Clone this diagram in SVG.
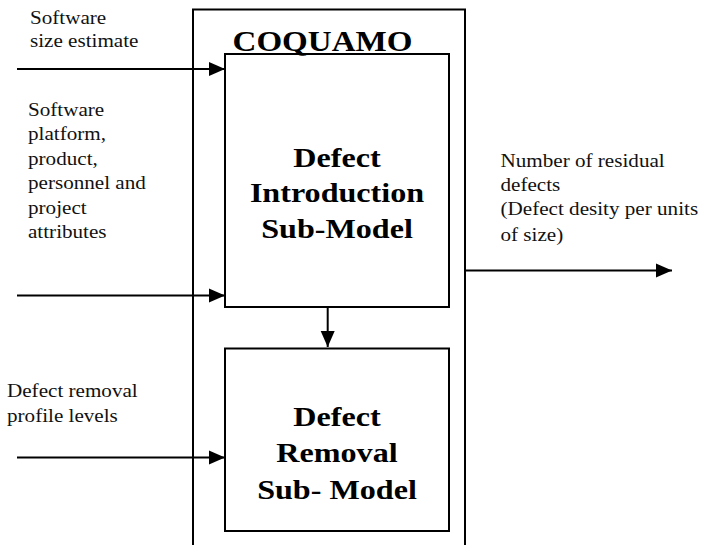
<svg xmlns="http://www.w3.org/2000/svg" width="718" height="545" viewBox="0 0 718 545">
<style>
.box{fill:none;stroke:#000;stroke-width:2}
.ln{fill:none;stroke:#000;stroke-width:2}
.sm{font-family:"Liberation Serif","Times New Roman",serif;font-size:18.7px;fill:#111}
.bd{font-family:"Liberation Serif","Times New Roman",serif;font-size:27px;font-weight:bold;fill:#000;text-anchor:middle}
</style>
<defs>
<marker id="ah" markerUnits="userSpaceOnUse" markerWidth="16" markerHeight="16" refX="16" refY="8" orient="auto">
<path d="M0,1 L16,8 L0,15 Z" fill="#000"/>
</marker>
</defs>
<g id="coquamo">
<path class="box" d="M193,545 V9.5 H465 V545"/>
<g transform="translate(322.5,0) scale(1.16,1)"><text class="bd" x="0" y="51.5" style="font-size:28.5px">COQUAMO</text></g>
</g>
<g id="defect-introduction">
<rect class="box" x="225" y="54" width="224" height="253"/>
<g transform="translate(337,0) scale(1.19,1)">
<text class="bd" x="0" y="167.5">Defect</text>
<text class="bd" x="0" y="202.5">Introduction</text>
<text class="bd" x="0" y="238">Sub-Model</text>
</g>
</g>
<g id="defect-removal">
<rect class="box" x="225" y="348.5" width="224" height="182.5"/>
<g transform="translate(337,0) scale(1.19,1)">
<text class="bd" x="0" y="426">Defect</text>
<text class="bd" x="0" y="462.5">Removal</text>
<text class="bd" x="0" y="499">Sub- Model</text>
</g>
</g>
<g id="labels">
<g transform="translate(30,0) scale(1.13,1)">
<text class="sm" x="0" y="24">Software</text>
<text class="sm" x="0" y="47">size estimate</text>
</g>
<g transform="translate(28,0) scale(1.13,1)">
<text class="sm" x="0" y="116">Software</text>
<text class="sm" x="0" y="140.5">platform,</text>
<text class="sm" x="0" y="165">product,</text>
<text class="sm" x="0" y="189.5">personnel and</text>
<text class="sm" x="0" y="214">project</text>
<text class="sm" x="0" y="238.5">attributes</text>
</g>
<g transform="translate(7,0) scale(1.13,1)">
<text class="sm" x="0" y="397">Defect removal</text>
<text class="sm" x="0" y="422">profile levels</text>
</g>
<g transform="translate(500.5,0) scale(1.13,1)">
<text class="sm" x="0" y="167">Number of residual</text>
<text class="sm" x="0" y="191">defects</text>
<text class="sm" x="0" y="215.5">(Defect desity per units</text>
<text class="sm" x="0" y="241">of size)</text>
</g>
</g>
<g id="connectors">
<line class="ln" x1="17" y1="69" x2="225" y2="69" marker-end="url(#ah)"/>
<line class="ln" x1="17" y1="295.5" x2="225" y2="295.5" marker-end="url(#ah)"/>
<line class="ln" x1="17" y1="457.5" x2="225" y2="457.5" marker-end="url(#ah)"/>
<line class="ln" x1="465" y1="270.5" x2="672" y2="270.5" marker-end="url(#ah)"/>
<line class="ln" x1="327.7" y1="307" x2="327.7" y2="347" marker-end="url(#ah)"/>
</g>
</svg>
